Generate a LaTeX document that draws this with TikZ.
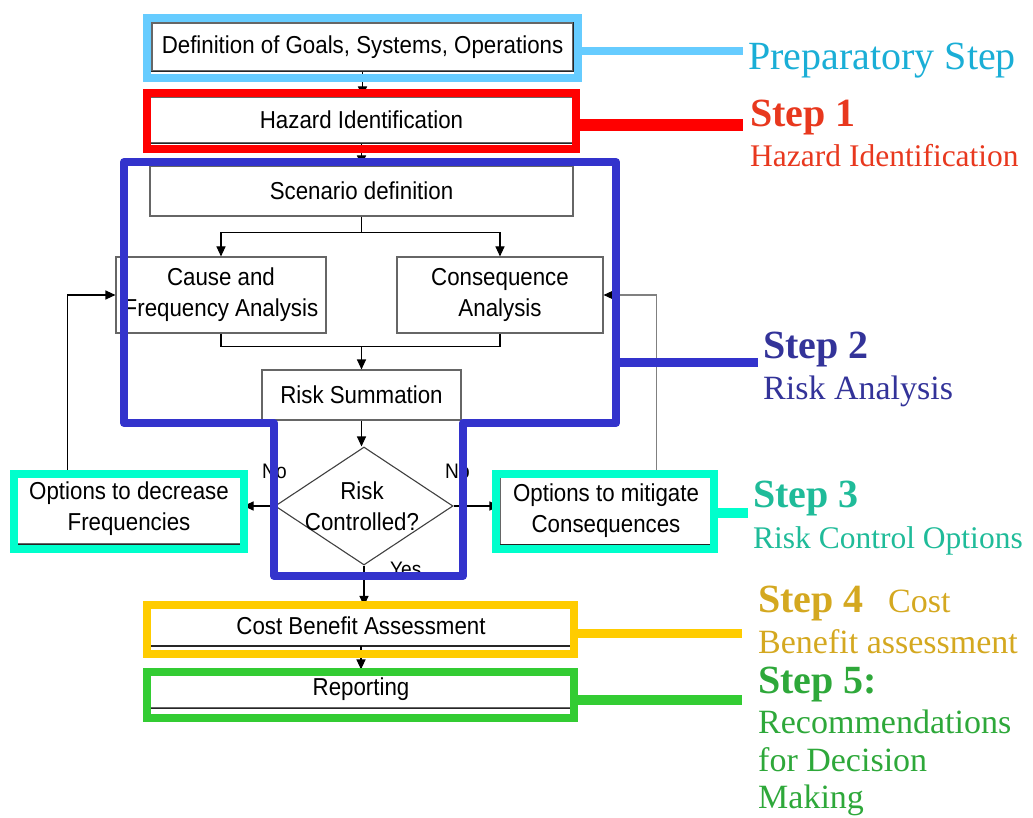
\documentclass[tikz,border=0pt]{standalone}
\usepackage{fontspec}
\setmainfont{Liberation Serif}
\setsansfont{Liberation Sans}
\newfontfamily\boxfont{Liberation Sans}[FakeStretch=0.91]
\usetikzlibrary{arrows.meta,shapes.geometric}
\definecolor{cPrep}{HTML}{66CCFF}
\definecolor{tPrep}{HTML}{1AAED6}
\definecolor{cRed}{HTML}{FF0000}
\definecolor{tRed}{HTML}{E8381E}
\definecolor{cBlue}{HTML}{3333CC}
\definecolor{tBlue}{HTML}{333399}
\definecolor{cCyan}{HTML}{00FFCC}
\definecolor{tCyan}{HTML}{1FBB99}
\definecolor{cYel}{HTML}{FFCC00}
\definecolor{tYel}{HTML}{D4A820}
\definecolor{cGreen}{HTML}{33CC33}
\definecolor{tGreen}{HTML}{2EA83A}
\begin{document}
\begin{tikzpicture}[x=1pt,y=-1pt,
  box/.style={draw=black!60, line width=1.1pt, fill=white, inner sep=0pt, align=center,
              font=\boxfont\fontsize{24.5}{31}\selectfont},
  txt/.style={inner sep=0pt, align=center, font=\boxfont\fontsize{24.5}{31}\selectfont},
  small/.style={inner sep=0pt, font=\boxfont\fontsize{21}{22}\selectfont},
  shadeline/.style={draw=black!85, line width=1.6pt},
  arr/.style={-{Triangle[length=10pt,width=9pt]}, line width=1.1pt},
  ln/.style={line width=1.1pt},
  frm/.style={line width=8pt, inner sep=0pt},
  bold/.style={anchor=base west, inner sep=0pt, font=\bfseries\fontsize{40}{40}\selectfont},
  reg/.style={anchor=base west, inner sep=0pt, font=\fontsize{34}{34}\selectfont}
]
\useasboundingbox (0,0) rectangle (1033,818);
\clip (0,0) rectangle (1033,818);

% ---------- flowchart boxes ----------
\node[box, minimum width=421pt, minimum height=48pt] (def) at (362.5,47) {Definition of Goals, Systems, Operations};
\node[box, minimum width=423pt, minimum height=46pt] (haz) at (361.5,120) {Hazard Identification};
\node[box, minimum width=423pt, minimum height=50pt] (scen) at (361.5,191) {Scenario definition};
\node[box, minimum width=210pt, minimum height=76pt] (cause) at (221,295) {Cause and\\Frequency Analysis};
\node[box, minimum width=206pt, minimum height=76pt] (cons) at (500,295) {Consequence\\Analysis};
\node[box, minimum width=199pt, minimum height=50pt] (sum) at (361.5,395) {Risk Summation};
\node[draw=black!75, line width=1.1pt, fill=white, shape=diamond, inner sep=0pt,
      minimum width=178pt, minimum height=118pt] (risk) at (364,506) {};
\node[txt] (risktxt) at (362,506) {Risk\\Controlled?};
\node[box, minimum width=228pt, minimum height=70pt] (dec) at (129,509) {Options to decrease\\Frequencies};
\node[box, minimum width=212pt, minimum height=67pt] (mit) at (606,511) {Options to mitigate\\Consequences};
\node[box, minimum width=422pt, minimum height=39pt] (cost) at (361,626) {Cost Benefit Assessment};
\node[box, minimum width=422pt, minimum height=38pt] (rep) at (361,689) {Reporting};

% 3D-like dark edges
\foreach \b in {def,haz,dec,mit,cost,rep}{
  \draw[shadeline] (\b.south west) -- (\b.south east) -- (\b.north east);
}

% ---------- connectors ----------
\draw[arr] (def.south) -- (def.south |- haz.north);
\draw[arr] (haz.south) -- (haz.south |- scen.north);
\path (scen.south) ++(0,16) coordinate (split);
\draw[ln] (scen.south) -- (split);
\draw[arr] (split) -| (cause.north);
\draw[arr] (split) -| (cons.north);
\path (sum.north) ++(0,-23) coordinate (merge);
\draw[ln] (cause.south) |- (merge) -| (cons.south);
\draw[arr] (merge) -- (sum.north);
\draw[arr] (sum.south) -- (sum.south |- risk.north);
\draw[arr] (risk.west) -- (risk.west -| dec.east);
\draw[arr] (risk.east) -- (risk.east -| mit.west);
\draw[arr] (risk.south) -- (risk.south |- cost.north);
\draw[arr] (cost.south) -- (cost.south |- rep.north);
\draw[arr] ([xshift=53pt]dec.north west) |- (cause.west);
\draw[-{Triangle[length=10pt,width=9pt,color=black]}, line width=1.1pt, draw=black!50]
  ([xshift=-56pt]mit.north east) |- (cons.east);

\node[small, anchor=base west] (noL) at (262,478) {No};
\node[small, anchor=base west] (noR) at (445,478) {No};
\node[small, anchor=base west] (yes) at (390,576) {Yes};

% ---------- coloured frames ----------
\node[frm, draw=cPrep, minimum width=431pt, minimum height=60pt] (fPrep) at (362.5,48) {};
\node[frm, draw=cRed, minimum width=429pt, minimum height=56pt] (fRed) at (361.5,121) {};
\draw[cBlue, line width=8pt, line join=round]
  (124,162) -- (616,162) -- (616,423) -- (463,423) -- (463,576) -- (274,576) -- (274,423) -- (124,423) -- cycle;
\coordinate (fBlue) at (616,362);
\node[frm, draw=cCyan, minimum width=230pt, minimum height=75pt] (fCyL) at (129,511.5) {};
\node[frm, draw=cCyan, minimum width=218pt, minimum height=75pt] (fCyR) at (605,511.5) {};
\node[frm, draw=cYel, minimum width=427pt, minimum height=49pt] (fYel) at (360.5,629.5) {};
\node[frm, draw=cGreen, minimum width=427pt, minimum height=46pt] (fGreen) at (360.5,695) {};

% ---------- label connectors ----------
\coordinate (ePrep) at (743,51);
\coordinate (eRed) at (743,125);
\coordinate (eBlue) at (758,362);
\coordinate (eCyan) at (748,513);
\coordinate (eYel) at (742,633);
\coordinate (eGreen) at (742,700);
\draw[cPrep, line width=8pt] (fPrep.east |- ePrep) -- (ePrep);
\draw[cRed, line width=12pt] (fRed.east |- eRed) -- (eRed);
\draw[cBlue, line width=9pt] (fBlue |- eBlue) -- (eBlue);
\draw[cCyan, line width=10pt] (fCyR.east |- eCyan) -- (eCyan);
\draw[cYel, line width=9pt] (fYel.east |- eYel) -- (eYel);
\draw[cGreen, line width=10pt] (fGreen.east |- eGreen) -- (eGreen);

% ---------- labels ----------
\node[reg, text=tPrep, font=\fontsize{40}{40}\selectfont] (lPrep) at (748,70) {Preparatory Step};
\node[bold, text=tRed] (l1a) at (750,127) {Step 1};
\node[reg, text=tRed, font=\fontsize{31.5}{32}\selectfont] (l1b) at (750,167) {Hazard Identification};
\node[bold, text=tBlue] (l2a) at (763,358) {Step 2};
\node[reg, text=tBlue] (l2b) at (763,399) {Risk Analysis};
\node[bold, text=tCyan] (l3a) at (753,507) {Step 3};
\node[reg, text=tCyan, font=\fontsize{31.5}{32}\selectfont] (l3b) at (753,548) {Risk Control Options};
\node[bold, text=tYel] (l4a) at (758,612) {Step 4};
\node[reg, text=tYel] (l4c) at (888,612) {Cost};
\node[reg, text=tYel] (l4b) at (758,653) {Benefit assessment};
\node[bold, text=tGreen] (l5a) at (758,693) {Step 5:};
\node[reg, text=tGreen] (l5b) at (758,733) {Recommendations};
\node[reg, text=tGreen] (l5c) at (758,771) {for Decision};
\node[reg, text=tGreen] (l5d) at (758,808) {Making};
\end{tikzpicture}
\end{document}
